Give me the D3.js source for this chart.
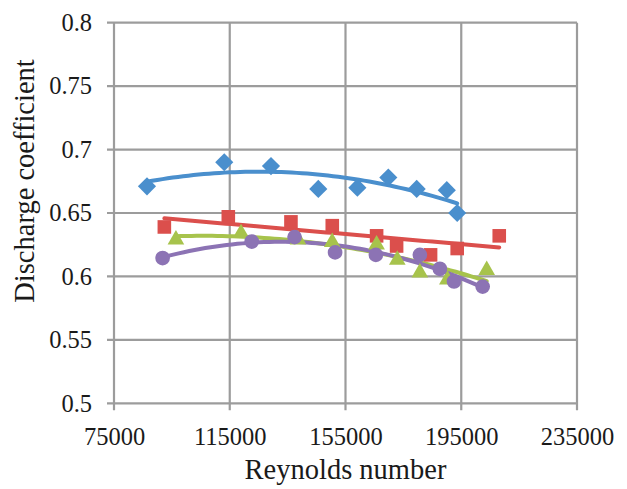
<!DOCTYPE html>
<html>
<head>
<meta charset="utf-8">
<script src="https://cdn.jsdelivr.net/npm/d3@7"></script>
<style>
    html, body { margin: 0; padding: 0; background: #fff; }
    svg text { font-family: "Liberation Serif", "Times New Roman", Times, "DejaVu Serif", serif !important; fill: #1a1a1a; }
</style>
</head>
<body>
<svg class="graph" width="627" height="489"></svg>
<script>
(() => {
    'use strict';

    // Reynolds number / discharge coefficient, one pair of arrays per series
    const blueRe = [86400, 113100, 129250, 145600, 159100, 169800, 179600, 190000, 193600],
          blueCd = [0.671, 0.690, 0.687, 0.669, 0.670, 0.678, 0.669, 0.668, 0.650],
          redRe = [92400, 114500, 136150, 150430, 165750, 172660, 184400, 193600, 208130],
          redCd = [0.639, 0.647, 0.643, 0.640, 0.632, 0.624, 0.617, 0.622, 0.632],
          greenRe = [96400, 118900, 138600, 150400, 165750, 172900, 180700, 190200, 203800],
          greenCd = [0.629, 0.634, 0.629, 0.627, 0.625, 0.613, 0.603, 0.5975, 0.605],
          purpleRe = [91800, 122600, 137400, 151400, 165500, 180700, 187600, 192500, 202400],
          purpleCd = [0.6145, 0.6275, 0.631, 0.619, 0.617, 0.617, 0.606, 0.596, 0.592];

    const xTicks = [75000, 115000, 155000, 195000, 235000],
          yTicks = [0.5, 0.55, 0.6, 0.65, 0.7, 0.75, 0.8];

    const series = [
        { re: blueRe, cd: blueCd, color: '#4a8fcd', symbol: d3.symbolSquare, size: 165, turn: 45, order: 2 },
        { re: redRe, cd: redCd, color: '#db4f4c', symbol: d3.symbolSquare, size: 185, turn: 0, order: 1 },
        { re: greenRe, cd: greenCd, color: '#a7c34c', symbol: d3.symbolTriangle, size: 120, turn: 0, order: 2 },
        { re: purpleRe, cd: purpleCd, color: '#8c73b4', symbol: d3.symbolCircle, size: 170, turn: 0, order: 2 }
    ];

    const left = 114, right = 577, top = 22.7, bottom = 403.3,
          gridColor = '#9c9c9c',
          svg = d3.select('.graph'),
          xScale = d3.scaleLinear().domain([75000, 235000]).range([left, right]),
          yScale = d3.scaleLinear().domain([0.5, 0.8]).range([bottom, top]);

    // least squares polynomial, same thing the spreadsheet trendline does
    const polyFit = (xs, ys, order) => {
        const n = order + 1,
              mx = d3.mean(xs),
              sx = 100000,
              a = [];
        for (let r = 0; r < n; r++) {
            a.push(new Array(n + 1).fill(0));
        }
        xs.forEach((x, k) => {
            const t = (x - mx) / sx;
            for (let r = 0; r < n; r++) {
                for (let c = 0; c < n; c++) {
                    a[r][c] += Math.pow(t, r + c);
                }
                a[r][n] += ys[k] * Math.pow(t, r);
            }
        });
        for (let i = 0; i < n; i++) {
            for (let j = i + 1; j < n; j++) {
                const f = a[j][i] / a[i][i];
                for (let c = i; c <= n; c++) a[j][c] -= f * a[i][c];
            }
        }
        const coef = new Array(n).fill(0);
        for (let i = n - 1; i >= 0; i--) {
            let s = a[i][n];
            for (let c = i + 1; c < n; c++) s -= a[i][c] * coef[c];
            coef[i] = s / a[i][i];
        }
        return x => {
            const t = (x - mx) / sx;
            return coef.reduce((acc, c, i) => acc + c * Math.pow(t, i), 0);
        };
    };

    // grid
    svg.append('g')
        .selectAll('line')
        .data(xTicks)
        .enter()
        .append('line')
        .attr('x1', d => xScale(d)).attr('x2', d => xScale(d))
        .attr('y1', top).attr('y2', bottom + 7)
        .attr('stroke', gridColor)
        .attr('stroke-width', 2.2);

    svg.append('g')
        .selectAll('line')
        .data(yTicks)
        .enter()
        .append('line')
        .attr('x1', left - 7).attr('x2', right)
        .attr('y1', d => yScale(d)).attr('y2', d => yScale(d))
        .attr('stroke', gridColor)
        .attr('stroke-width', 2.2);

    // tick labels
    const xAxis = d3.axisBottom(xScale).tickValues(xTicks).tickFormat(d3.format('d')).tickSize(0).tickPadding(24),
          yAxis = d3.axisLeft(yScale).tickValues(yTicks).tickFormat(d => String(d)).tickSize(0).tickPadding(22);

    svg.append('g')
        .attr('transform', 'translate(0,' + bottom + ')')
        .call(xAxis)
        .call(g => g.select('.domain').remove())
        .attr('font-family', null)
        .selectAll('text')
        .attr('font-size', '24.5px');

    svg.append('g')
        .attr('transform', 'translate(' + left + ',0)')
        .call(yAxis)
        .call(g => g.select('.domain').remove())
        .attr('font-family', null)
        .selectAll('text')
        .attr('font-size', '24.5px');

    // trendlines under the markers
    const line = d3.line().x(d => xScale(d[0])).y(d => yScale(d[1]));

    series.forEach(s => {
        const fit = polyFit(s.re, s.cd, s.order),
              lo = d3.min(s.re),
              hi = d3.max(s.re),
              pts = d3.range(0, 61).map(i => {
                  const x = lo + (hi - lo) * i / 60;
                  return [x, fit(x)];
              });
        svg.append('path')
            .datum(pts)
            .attr('fill', 'none')
            .attr('stroke', s.color)
            .attr('stroke-width', 4)
            .attr('stroke-linecap', 'round')
            .attr('d', line);
    });

    series.forEach(s => {
        svg.append('g')
            .selectAll('path')
            .data(s.re.map((r, i) => [r, s.cd[i]]))
            .enter()
            .append('path')
            .attr('transform', d => 'translate(' + xScale(d[0]) + ',' + yScale(d[1]) + ') rotate(' + s.turn + ')')
            .attr('d', d3.symbol().type(s.symbol).size(s.size))
            .attr('fill', s.color);
    });

    // axis titles
    svg.append('text')
        .attr('x', (left + right) / 2)
        .attr('y', 479)
        .attr('text-anchor', 'middle')
        .attr('font-size', '28.5px')
        .text('Reynolds number');

    svg.append('text')
        .attr('transform', 'translate(34,181) rotate(-90)')
        .attr('text-anchor', 'middle')
        .attr('font-size', '28.5px')
        .text('Discharge coefficient');
})();
</script>
</body>
</html>
